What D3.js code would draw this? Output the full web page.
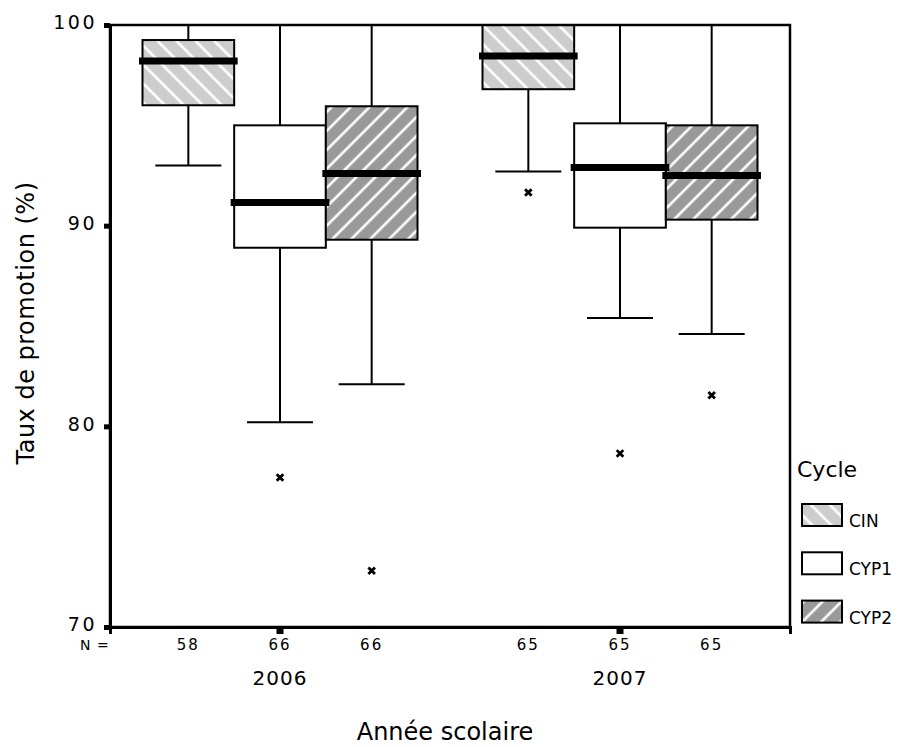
<!DOCTYPE html>
<html>
<head>
<meta charset="utf-8">
<script src="https://cdn.jsdelivr.net/npm/d3@7"></script>
<style>
body { margin: 0; background: #fff; }
svg { display: block; font-family: "DejaVu Sans", sans-serif; }
</style>
</head>
<body>
<svg id="chart" width="901" height="747"></svg>
<script>
// data
const years = ["2006", "2007"];
const cycles = ["CIN", "CYP1", "CYP2"];
const nCounts = [58, 66, 66, 65, 65, 65];
const whiskerLow = [93.0, 80.2, 82.1, 92.7, 85.4, 84.6];
const q1 = [96.0, 88.9, 89.3, 96.8, 89.9, 90.3];
const medians = [98.2, 91.15, 92.6, 98.45, 92.9, 92.5];
const q3 = [99.25, 95.0, 95.95, 100, 95.1, 95.0];
const whiskerHigh = [100, 100, 100, 100, 100, 100];
const outliers = [[], [77.45], [72.8], [91.65], [78.65], [81.55]];
const yTicks = [70, 80, 90, 100];

const fills = { CIN: "url(#hatchCIN)", CYP1: "#fff", CYP2: "url(#hatchCYP2)" };

const svg = d3.select("#chart");
const plotL = 110, plotR = 790, plotT = 25, plotB = 627;

const x0 = d3.scaleBand().domain(years).range([plotL, plotR]);
const x1 = d3.scaleBand().domain(cycles).range([-137.5, 137.5]);
const y = d3.scaleLinear().domain([70, 100]).range([plotB, plotT]);

/* PATTERNS */
const defs = svg.append("defs");
function hatch(id, bg, angle) {
  const p = defs.append("pattern")
    .attr("id", id)
    .attr("patternUnits", "userSpaceOnUse")
    .attr("width", 13.4).attr("height", 13.4)
    .attr("patternTransform", `rotate(${angle})`);
  p.append("rect").attr("width", 13.4).attr("height", 13.4).attr("fill", bg);
  p.append("line").attr("x1", 2).attr("x2", 2).attr("y1", -1).attr("y2", 15)
    .attr("stroke", "#fff").attr("stroke-width", 2.6);
}
hatch("hatchCIN", "#cdcdcd", -45);
hatch("hatchCYP2", "#999999", 45);

/* BOXES */
const boxes = [];
years.forEach((yr, i) => cycles.forEach((c, j) => {
  const k = i * 3 + j;
  boxes.push({ yr, c, k, cx: x0(yr) + x0.bandwidth() / 2 + x1(c) + x1.bandwidth() / 2 });
}));
const bw = x1.bandwidth();
const capW = 66;

const g = svg.append("g");

boxes.forEach(b => {
  const k = b.k;
  // whiskers
  g.append("line").attr("x1", b.cx).attr("x2", b.cx)
    .attr("y1", y(whiskerHigh[k])).attr("y2", y(q3[k]))
    .attr("stroke", "#000").attr("stroke-width", 2);
  g.append("line").attr("x1", b.cx).attr("x2", b.cx)
    .attr("y1", y(q1[k])).attr("y2", y(whiskerLow[k]))
    .attr("stroke", "#000").attr("stroke-width", 2);
  g.append("line").attr("x1", b.cx - capW / 2).attr("x2", b.cx + capW / 2)
    .attr("y1", y(whiskerLow[k])).attr("y2", y(whiskerLow[k]))
    .attr("stroke", "#000").attr("stroke-width", 2);
  // box
  g.append("rect")
    .attr("x", b.cx - bw / 2).attr("width", bw)
    .attr("y", y(q3[k])).attr("height", y(q1[k]) - y(q3[k]))
    .attr("fill", fills[b.c]).attr("stroke", "#000").attr("stroke-width", 2);
});

// medians on top
boxes.forEach(b => {
  g.append("line")
    .attr("x1", b.cx - bw / 2 - 3.5).attr("x2", b.cx + bw / 2 + 3.5)
    .attr("y1", y(medians[b.k])).attr("y2", y(medians[b.k]))
    .attr("stroke", "#000").attr("stroke-width", 7);
});

// outliers
boxes.forEach(b => {
  outliers[b.k].forEach(v => {
    g.append("path")
      .attr("d", d3.symbol(d3.symbolTimes, 30)())
      .attr("transform", `translate(${b.cx},${y(v)})`)
      .attr("fill", "none").attr("stroke", "#000").attr("stroke-width", 2.8);
  });
});

/* FRAME + AXES */
svg.append("rect")
  .attr("x", plotL).attr("y", plotT)
  .attr("width", plotR - plotL).attr("height", plotB - plotT)
  .attr("fill", "none").attr("stroke", "#000").attr("stroke-width", 2.5);

const yAxis = svg.append("g")
  .attr("transform", `translate(${plotL},0)`)
  .call(d3.axisLeft(y).tickValues(yTicks).tickSize(6).tickPadding(7));
yAxis.select(".domain").attr("stroke-width", 3);
yAxis.selectAll(".tick line").attr("stroke-width", 5);
yAxis.selectAll(".tick text")
  .attr("font-size", 19).attr("letter-spacing", 2.5)
  .attr("dy", "0.2em")
  .attr("font-family", "DejaVu Sans").attr("fill", "#000");

const xAxis = svg.append("g")
  .attr("transform", `translate(0,${plotB})`)
  .call(d3.axisBottom(x0).tickSize(7).tickPadding(37));
xAxis.select(".domain").attr("stroke-width", 3);
xAxis.selectAll(".tick line").attr("stroke-width", 7);
xAxis.selectAll(".tick text")
  .attr("font-size", 20).attr("letter-spacing", 1)
  .attr("font-family", "DejaVu Sans").attr("fill", "#000");

// N counts
svg.append("text")
  .attr("x", 80).attr("y", 650)
  .attr("font-size", 14).attr("letter-spacing", 1)
  .text("N =");
boxes.forEach(b => {
  svg.append("text")
    .attr("x", b.cx).attr("y", 650)
    .attr("text-anchor", "middle")
    .attr("font-size", 15).attr("letter-spacing", 2)
    .text(nCounts[b.k]);
});

/* AXIS TITLES */
svg.append("text")
  .attr("x", (plotL + plotR) / 2 - 5).attr("y", 740)
  .attr("text-anchor", "middle")
  .attr("font-size", 24)
  .text("Année scolaire");

svg.append("text")
  .attr("transform", "rotate(-90)")
  .attr("x", -323).attr("y", 34)
  .attr("text-anchor", "middle")
  .attr("font-size", 24).attr("letter-spacing", 0.5)
  .text("Taux de promotion (%)");

/* LEGEND */
const legend = svg.append("g");
legend.append("text")
  .attr("x", 797).attr("y", 477)
  .attr("font-size", 22)
  .text("Cycle");
cycles.forEach((c, i) => {
  const ly = 504 + i * 48.3;
  legend.append("rect")
    .attr("x", 802).attr("y", ly).attr("width", 40).attr("height", 22)
    .attr("fill", fills[c]).attr("stroke", "#000").attr("stroke-width", 2);
  legend.append("text")
    .attr("x", 849).attr("y", ly + 23)
    .attr("font-size", 17)
    .text(c);
});
</script>
</body>
</html>
